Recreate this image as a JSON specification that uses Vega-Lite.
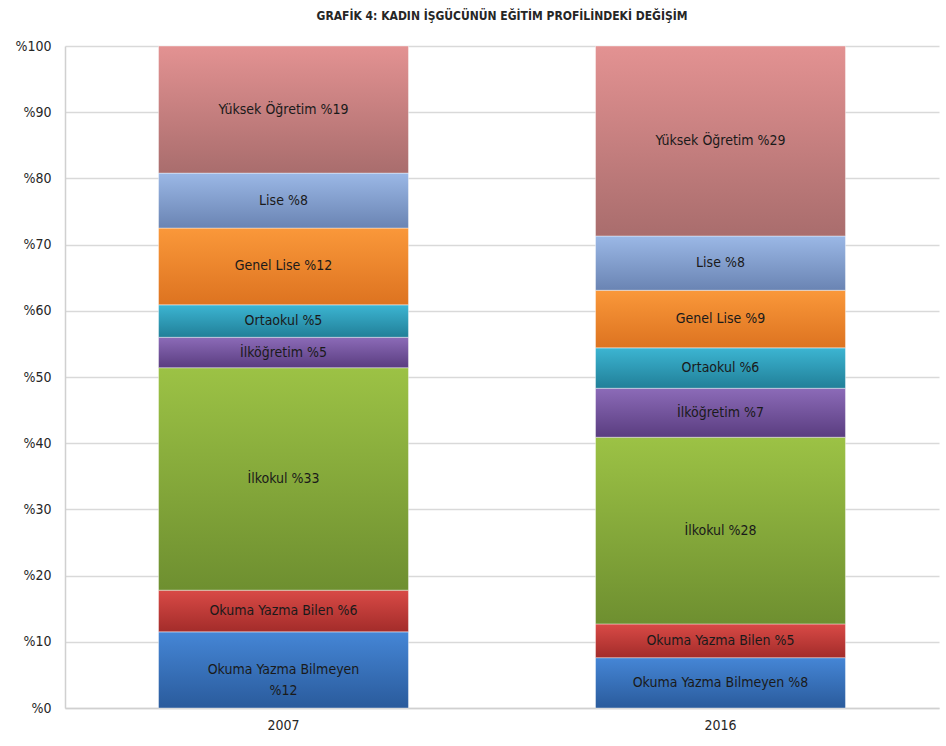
{
  "$schema": "https://vega.github.io/schema/vega-lite/v6.json",
  "autosize": {"type": "fit", "contains": "padding"},
  "width": 946,
  "height": 746,
  "padding": {"left": 14, "right": 7, "top": 10, "bottom": 14},
  "background": "white",
  "title": {
    "text": "GRAFİK 4: KADIN İŞGÜCÜNÜN EĞİTİM PROFİLİNDEKİ DEĞİŞİM",
    "font": "DejaVu Sans Condensed, Liberation Sans, sans-serif",
    "fontSize": 12,
    "fontWeight": "bold",
    "color": "#262626",
    "anchor": "middle",
    "offset": 16
  },
  "config": {
    "view": {"stroke": null},
    "font": "DejaVu Sans Condensed, Liberation Sans, sans-serif"
  },
  "data": {
    "values": [
      {"year": "2007", "cat": "Okuma Yazma Bilmeyen", "ord": 1, "value": 11.5, "label": ["Okuma Yazma Bilmeyen", "%12"]},
      {"year": "2007", "cat": "Okuma Yazma Bilen", "ord": 2, "value": 6.3, "label": "Okuma Yazma Bilen %6"},
      {"year": "2007", "cat": "İlkokul", "ord": 3, "value": 33.6, "label": "İlkokul %33"},
      {"year": "2007", "cat": "İlköğretim", "ord": 4, "value": 4.6, "label": "İlköğretim %5"},
      {"year": "2007", "cat": "Ortaokul", "ord": 5, "value": 4.9, "label": "Ortaokul %5"},
      {"year": "2007", "cat": "Genel Lise", "ord": 6, "value": 11.6, "label": "Genel Lise %12"},
      {"year": "2007", "cat": "Lise", "ord": 7, "value": 8.3, "label": "Lise %8"},
      {"year": "2007", "cat": "Yüksek Öğretim", "ord": 8, "value": 19.2, "label": "Yüksek Öğretim  %19"},
      {"year": "2016", "cat": "Okuma Yazma Bilmeyen", "ord": 1, "value": 7.6, "label": "Okuma Yazma Bilmeyen %8"},
      {"year": "2016", "cat": "Okuma Yazma Bilen", "ord": 2, "value": 5.1, "label": "Okuma Yazma Bilen %5"},
      {"year": "2016", "cat": "İlkokul", "ord": 3, "value": 28.2, "label": "İlkokul %28"},
      {"year": "2016", "cat": "İlköğretim", "ord": 4, "value": 7.4, "label": "İlköğretim %7"},
      {"year": "2016", "cat": "Ortaokul", "ord": 5, "value": 6.1, "label": "Ortaokul %6"},
      {"year": "2016", "cat": "Genel Lise", "ord": 6, "value": 8.7, "label": "Genel Lise %9"},
      {"year": "2016", "cat": "Lise", "ord": 7, "value": 8.2, "label": "Lise %8"},
      {"year": "2016", "cat": "Yüksek Öğretim", "ord": 8, "value": 28.7, "label": "Yüksek Öğretim %29"}
    ]
  },
  "transform": [
    {"stack": "value", "groupby": ["year"], "sort": [{"field": "ord", "order": "ascending"}], "as": ["y0", "y1"]}
  ],
  "encoding": {
    "x": {
      "field": "year",
      "type": "nominal",
      "scale": {"paddingInner": 0.428, "paddingOuter": 0.214},
      "axis": {
        "title": null,
        "labelAngle": 0,
        "labelFontSize": 14,
        "labelColor": "#262626",
        "labelPadding": 10,
        "ticks": false,
        "domainColor": "#d0d0d0",
        "domainWidth": 1.5
      }
    },
    "y": {
      "field": "y0",
      "type": "quantitative",
      "scale": {"domain": [0, 100], "nice": false},
      "axis": {
        "title": null,
        "values": [0, 10, 20, 30, 40, 50, 60, 70, 80, 90, 100],
        "labelExpr": "'%' + datum.value",
        "labelFontSize": 14,
        "labelColor": "#262626",
        "labelPadding": 14,
        "ticks": false,
        "domainColor": "#d0d0d0",
        "domainWidth": 1.5,
        "gridColor": "#d9d9d9",
        "gridWidth": 1.5
      }
    }
  },
  "layer": [
    {
      "mark": {"type": "bar", "stroke": "#ffffff", "strokeOpacity": 0.5, "strokeWidth": 0.8},
      "encoding": {
        "y2": {"field": "y1"},
        "color": {
          "condition": [
            {"test": "datum.cat === 'Okuma Yazma Bilmeyen'", "value": {"gradient": "linear", "x1": 0, "y1": 0, "x2": 0, "y2": 1, "stops": [{"offset": 0, "color": "#4586D6"}, {"offset": 1, "color": "#2A5B9C"}]}},
            {"test": "datum.cat === 'Okuma Yazma Bilen'", "value": {"gradient": "linear", "x1": 0, "y1": 0, "x2": 0, "y2": 1, "stops": [{"offset": 0, "color": "#D94A46"}, {"offset": 1, "color": "#A32C2A"}]}},
            {"test": "datum.cat === 'İlkokul'", "value": {"gradient": "linear", "x1": 0, "y1": 0, "x2": 0, "y2": 1, "stops": [{"offset": 0, "color": "#9CC245"}, {"offset": 1, "color": "#6E8F30"}]}},
            {"test": "datum.cat === 'İlköğretim'", "value": {"gradient": "linear", "x1": 0, "y1": 0, "x2": 0, "y2": 1, "stops": [{"offset": 0, "color": "#8C6BB8"}, {"offset": 1, "color": "#5A3D80"}]}},
            {"test": "datum.cat === 'Ortaokul'", "value": {"gradient": "linear", "x1": 0, "y1": 0, "x2": 0, "y2": 1, "stops": [{"offset": 0, "color": "#3CB5D2"}, {"offset": 1, "color": "#217F98"}]}},
            {"test": "datum.cat === 'Genel Lise'", "value": {"gradient": "linear", "x1": 0, "y1": 0, "x2": 0, "y2": 1, "stops": [{"offset": 0, "color": "#FA983A"}, {"offset": 1, "color": "#DD7320"}]}},
            {"test": "datum.cat === 'Lise'", "value": {"gradient": "linear", "x1": 0, "y1": 0, "x2": 0, "y2": 1, "stops": [{"offset": 0, "color": "#9BB8E6"}, {"offset": 1, "color": "#6A84B3"}]}},
            {"test": "datum.cat === 'Yüksek Öğretim'", "value": {"gradient": "linear", "x1": 0, "y1": 0, "x2": 0, "y2": 1, "stops": [{"offset": 0, "color": "#E39292"}, {"offset": 1, "color": "#A96D6D"}]}}
          ],
          "value": "#888888"
        }
      }
    },
    {
      "mark": {
        "type": "text",
        "fontSize": 14,
        "color": "#1a1a1a",
        "align": "center",
        "baseline": "middle",
        "lineHeight": 21,
        "dy": {"expr": "(scale('y', datum.y1) - scale('y', datum.y0)) / 2"}
      },
      "encoding": {
        "text": {"field": "label"}
      }
    }
  ]
}
